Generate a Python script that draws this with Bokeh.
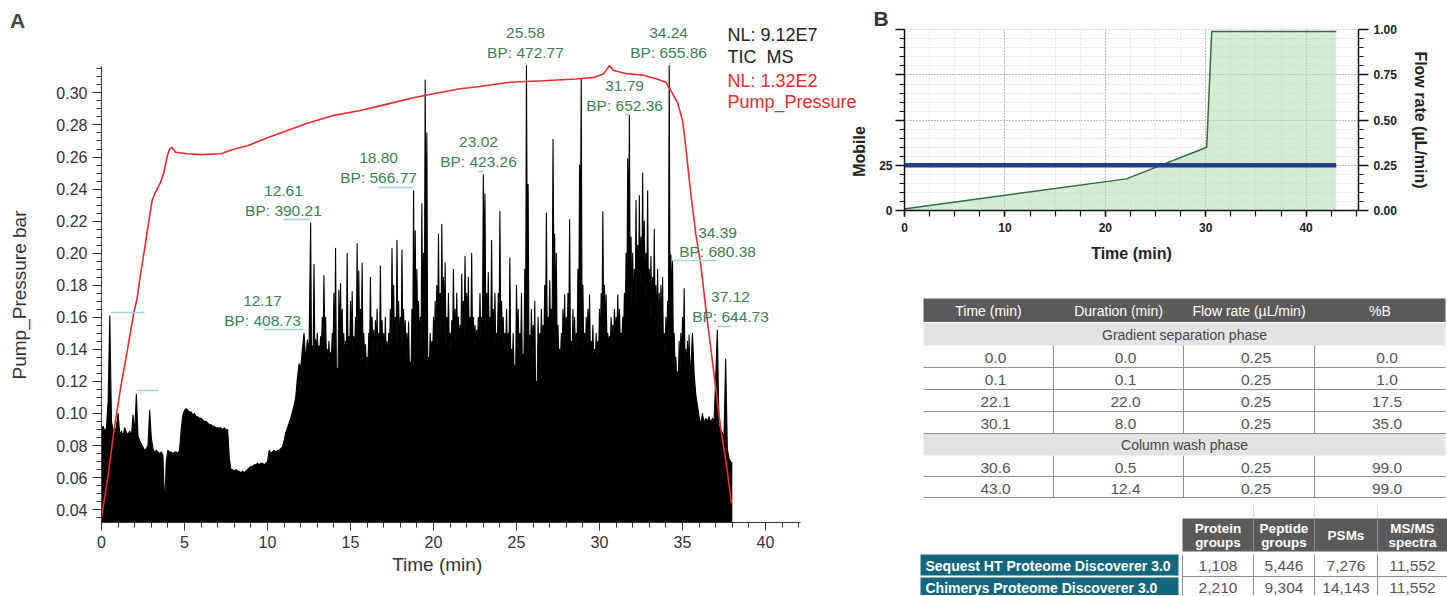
import math
from bokeh.plotting import figure
from bokeh.layouts import row, column
from bokeh.models import Range1d, LinearAxis, FixedTicker, PrintfTickFormatter
from bokeh.core.properties import value
from bokeh.embed import file_html
from bokeh.resources import INLINE

FONT = "Liberation Sans"
NARROW = "'Liberation Sans Narrow', 'Arial Narrow', 'Liberation Sans'"

# ---------------- Panel A data ----------------
# TIC trace (plotted in left-axis units): local maxima read every 0.1 min from 0.0 min
tic_step = 0.1
tic_values = [
    0.090, 0.092, 0.089, 0.091, 0.108, 0.161, 0.095, 0.090, 0.088, 0.092,
    0.100, 0.087, 0.089, 0.086, 0.091, 0.088, 0.087, 0.089, 0.086, 0.099,
    0.088, 0.112, 0.086, 0.083, 0.081, 0.079, 0.077, 0.078, 0.080, 0.102,
    0.085, 0.078, 0.076, 0.077, 0.076, 0.075, 0.076, 0.074, 0.041, 0.070,
    0.077, 0.076, 0.076, 0.075, 0.076, 0.076, 0.075, 0.077, 0.090, 0.099,
    0.102, 0.103, 0.102, 0.101, 0.101, 0.099, 0.100, 0.098, 0.098, 0.097,
    0.097, 0.096, 0.095, 0.095, 0.094, 0.093, 0.093, 0.092, 0.092, 0.091,
    0.091, 0.091, 0.091, 0.090, 0.091, 0.090, 0.090, 0.072, 0.065, 0.065,
    0.064, 0.065, 0.064, 0.064, 0.063, 0.064, 0.063, 0.064, 0.065, 0.066,
    0.067, 0.067, 0.068, 0.068, 0.069, 0.068, 0.069, 0.069, 0.068, 0.069,
    0.070, 0.077, 0.075, 0.076, 0.077, 0.076, 0.077, 0.077, 0.078, 0.079,
    0.083, 0.088, 0.091, 0.094, 0.097, 0.101, 0.105, 0.110, 0.122, 0.131,
    0.128, 0.140, 0.150, 0.133, 0.146, 0.138, 0.219, 0.142, 0.193, 0.146,
    0.150, 0.142, 0.148, 0.160, 0.186, 0.160, 0.140, 0.145, 0.138, 0.150,
    0.175, 0.203, 0.128, 0.177, 0.181, 0.165, 0.150, 0.145, 0.200, 0.148,
    0.170, 0.176, 0.148, 0.160, 0.206, 0.189, 0.165, 0.194, 0.150, 0.143,
    0.135, 0.150, 0.185, 0.160, 0.152, 0.158, 0.165, 0.150, 0.192, 0.158,
    0.150, 0.160, 0.145, 0.150, 0.165, 0.203, 0.180, 0.160, 0.208, 0.170,
    0.160, 0.202, 0.165, 0.158, 0.150, 0.157, 0.132, 0.165, 0.239, 0.214,
    0.190, 0.170, 0.160, 0.231, 0.200, 0.308, 0.275, 0.135, 0.150, 0.145,
    0.160, 0.170, 0.180, 0.212, 0.175, 0.218, 0.185, 0.194, 0.160, 0.175,
    0.150, 0.158, 0.190, 0.165, 0.175, 0.160, 0.155, 0.187, 0.170, 0.198,
    0.175, 0.185, 0.160, 0.200, 0.160, 0.155, 0.152, 0.160, 0.175, 0.160,
    0.249, 0.237, 0.175, 0.188, 0.160, 0.208, 0.165, 0.175, 0.150, 0.175,
    0.226, 0.170, 0.160, 0.150, 0.165, 0.150, 0.197, 0.140, 0.150, 0.130,
    0.180, 0.165, 0.150, 0.175, 0.137, 0.190, 0.317, 0.243, 0.149, 0.165,
    0.155, 0.170, 0.120, 0.160, 0.150, 0.165, 0.155, 0.180, 0.225, 0.160,
    0.183, 0.165, 0.271, 0.212, 0.200, 0.155, 0.140, 0.150, 0.165, 0.174,
    0.160, 0.175, 0.221, 0.145, 0.165, 0.160, 0.150, 0.190, 0.255, 0.309,
    0.180, 0.150, 0.160, 0.165, 0.174, 0.145, 0.155, 0.140, 0.150, 0.145,
    0.165, 0.175, 0.226, 0.180, 0.174, 0.150, 0.148, 0.160, 0.155, 0.165,
    0.160, 0.174, 0.165, 0.150, 0.160, 0.175, 0.200, 0.259, 0.286, 0.210,
    0.200, 0.190, 0.233, 0.205, 0.236, 0.210, 0.250, 0.220, 0.200, 0.239,
    0.190, 0.198, 0.185, 0.215, 0.180, 0.190, 0.175, 0.180, 0.185, 0.150,
    0.160, 0.170, 0.317, 0.199, 0.195, 0.150, 0.135, 0.126, 0.145, 0.150,
    0.160, 0.178, 0.140, 0.145, 0.149, 0.130, 0.150, 0.125, 0.112, 0.105,
    0.098, 0.093, 0.100, 0.094, 0.097, 0.095, 0.098, 0.094, 0.097, 0.095,
    0.122, 0.152, 0.092, 0.090, 0.088, 0.085, 0.134, 0.078, 0.072, 0.070,
    0.069,
]
# TIC minima between successive samples (slit bottoms), from 12.65 min every 0.1 min
valley_start = 12.65
tic_valleys = [
    0.136, 0.138, 0.140, 0.137,
    0.136, 0.139, 0.141, 0.143, 0.145, 0.134, 0.131, 0.133, 0.136, 0.140,
    0.127, 0.126, 0.126, 0.140, 0.142, 0.137, 0.132, 0.135, 0.138, 0.136,
    0.140, 0.137, 0.135, 0.141, 0.145, 0.143, 0.140, 0.138, 0.136, 0.131,
    0.129, 0.136, 0.140, 0.137, 0.135, 0.138, 0.136, 0.134, 0.140, 0.137,
    0.135, 0.133, 0.132, 0.138, 0.142, 0.146, 0.140, 0.139, 0.145, 0.138,
    0.140, 0.142, 0.137, 0.135, 0.133, 0.128, 0.127, 0.140, 0.150, 0.148,
    0.145, 0.140, 0.138, 0.150, 0.165, 0.190, 0.132, 0.130, 0.135, 0.136,
    0.140, 0.142, 0.145, 0.150, 0.148, 0.152, 0.150, 0.142, 0.143, 0.141,
    0.140, 0.143, 0.145, 0.144, 0.146, 0.142, 0.145, 0.147, 0.148, 0.150,
    0.150, 0.147, 0.148, 0.146, 0.144, 0.143, 0.142, 0.145, 0.148, 0.152,
    0.190, 0.150, 0.155, 0.148, 0.150, 0.148, 0.150, 0.142, 0.145, 0.150,
    0.148, 0.145, 0.140, 0.138, 0.137, 0.136, 0.134, 0.128, 0.127, 0.126,
    0.140, 0.138, 0.136, 0.130, 0.135, 0.160, 0.200, 0.137, 0.138, 0.136,
    0.135, 0.116, 0.118, 0.138, 0.140, 0.139, 0.142, 0.150, 0.148, 0.145,
    0.150, 0.160, 0.190, 0.150, 0.140, 0.135, 0.133, 0.136, 0.140, 0.142,
    0.145, 0.150, 0.138, 0.136, 0.138, 0.137, 0.140, 0.160, 0.200, 0.150,
    0.140, 0.138, 0.140, 0.142, 0.137, 0.136, 0.132, 0.134, 0.135, 0.138,
    0.142, 0.150, 0.155, 0.150, 0.145, 0.142, 0.141, 0.143, 0.145, 0.146,
    0.148, 0.146, 0.145, 0.146, 0.150, 0.155, 0.170, 0.200, 0.180, 0.165,
    0.160, 0.165, 0.170, 0.175, 0.180, 0.178, 0.175, 0.170, 0.175, 0.165,
    0.160, 0.158, 0.162, 0.155, 0.150, 0.148, 0.150, 0.145, 0.140, 0.138,
    0.140, 0.145, 0.160, 0.170, 0.140, 0.128, 0.122, 0.120, 0.125, 0.130,
    0.135, 0.130, 0.128, 0.125, 0.120,
]

pump_time = [0.0, 0.35, 0.75, 1.15, 1.55, 1.95, 2.15, 2.35, 2.65, 2.85, 3.05, 3.25,
             3.55, 3.75, 3.95, 4.1, 4.25, 4.45, 5.15, 6.0, 7.2, 8.0, 8.8, 10.0, 11.2,
             12.4, 14.0, 15.6, 17.2, 18.8, 20.0, 21.6, 22.8, 24.6, 26.6, 28.6, 29.7,
             30.25, 30.6, 30.85, 31.65, 32.65, 33.45, 34.0, 34.3, 34.7, 35.0, 35.2,
             35.5, 35.8, 36.1, 36.4, 36.7, 37.0, 37.3, 37.7, 37.95]
pump_value = [0.035, 0.058, 0.089, 0.116, 0.139, 0.163, 0.172, 0.187, 0.206, 0.220,
              0.233, 0.238, 0.244, 0.250, 0.260, 0.265, 0.266, 0.263, 0.262, 0.2615,
              0.262, 0.265, 0.267, 0.272, 0.2765, 0.281, 0.286, 0.289, 0.293, 0.297,
              0.2995, 0.3026, 0.304, 0.3066, 0.3076, 0.3087, 0.3097, 0.312, 0.317,
              0.314, 0.312, 0.311, 0.3087, 0.3066, 0.3014, 0.294, 0.283, 0.266, 0.237,
              0.212, 0.193, 0.166, 0.141, 0.116, 0.091, 0.064, 0.044]

peak_rt_labels = ["12.61", "18.80", "23.02", "25.58", "34.24", "31.79", "34.39", "37.12", "12.17"]
peak_bp_labels = ["BP: 390.21", "BP: 566.77", "BP: 423.26", "BP: 472.77", "BP: 655.86",
                  "BP: 652.36", "BP: 680.38", "BP: 644.73", "BP: 408.73"]
trace_info = ["NL: 9.12E7", "TIC\u00a0\u00a0MS", "NL: 1.32E2", "Pump_Pressure"]

# ---------------- Panel B / table data ----------------
grad_time = [0.0, 0.1, 22.1, 30.1, 30.6, 43.0]
grad_duration = [0.0, 0.1, 22.0, 8.0, 0.5, 12.4]
grad_flow = [0.25, 0.25, 0.25, 0.25, 0.25, 0.25]
grad_B = [0.0, 1.0, 17.5, 35.0, 99.0, 99.0]
grad_headers = ["Time (min)", "Duration (min)", "Flow rate (\u00b5L/min)", "%B"]
phase_names = ["Gradient separation phase", "Column wash phase"]

result_software = ["Sequest HT Proteome Discoverer 3.0", "Chimerys Proteome Discoverer 3.0"]
result_headers = [["Protein", "groups"], ["Peptide", "groups"], ["PSMs"], ["MS/MS", "spectra"]]
protein_groups = [1108, 2210]
peptide_groups = [5446, 9304]
psms = [7276, 14143]
msms_spectra = [11552, 11552]

# merge samples and slit minima into one trace ordered by time
tic_pts = [(round(i * tic_step, 2), v) for i, v in enumerate(tic_values)]
tic_pts += [(round(valley_start + i * tic_step, 2), v) for i, v in enumerate(tic_valleys)]
tic_pts.sort()
tic_t = [p[0] for p in tic_pts]
tic_v = [p[1] for p in tic_pts]

H = 595
# ======================= PANEL A =======================
PXM = 16.6       # px per minute
PXV = 1603.0     # px per bar
Y0 = 0.032


def tx(px):
    return (px - 101) / PXM


def vy(py):
    return Y0 + (522 - py) / PXV


WA = 870
pA = figure(width=WA, height=H, x_range=Range1d(tx(0), tx(WA)), y_range=Range1d(vy(H), vy(0)),
            output_backend="svg", toolbar_location=None, min_border=0,
            min_border_left=0, min_border_right=0, min_border_top=0, min_border_bottom=0)
pA.frame_align = False
pA.outline_line_color = None
pA.grid.visible = False

pA.varea(x=tic_t, y1=Y0, y2=tic_v, fill_color="black")
pA.line(tic_t, tic_v, line_color="black", line_width=1.1, line_join="round")
pA.line(pump_time, pump_value, line_color="#ec2a2e", line_width=1.6)

mk_x0 = [10.96, 16.69, 22.71, 25.48, 34.16, 31.51, 34.34, 37.11, 9.76, 0.54, 2.11]
mk_x1 = [12.53, 18.80, 23.01, 25.60, 34.28, 31.81, 37.05, 37.95, 12.17, 2.59, 3.43]
mk_y = [0.2210, 0.2410, 0.2509, 0.3183, 0.3183, 0.2865, 0.1954, 0.1543, 0.1524, 0.1630, 0.1143]
pA.segment(x0=mk_x0, y0=mk_y, x1=mk_x1, y1=mk_y, line_color="#9fd4dc", line_width=1.5)

ann_x = [10.96, 16.69, 22.71, 25.54, 34.16, 31.51, 37.11, 37.89, 9.70]
ann_y = [0.2385, 0.2591, 0.2691, 0.3371, 0.3371, 0.3040, 0.2129, 0.1724, 0.1699]
GREEN = "#3b7f54"
pA.text(x=ann_x, y=ann_y, text=peak_rt_labels, text_font=value(FONT), text_font_size="15.5px",
        text_color=GREEN, text_align="center", text_baseline="middle")
pA.text(x=ann_x, y=[v - 19 / PXV for v in ann_y], text=peak_bp_labels, text_font=value(FONT),
        text_font_size="15.5px", text_color=GREEN, text_align="center", text_baseline="middle")

info_y = [vy(34), vy(56), vy(80), vy(101)]
pA.text(x=[tx(727)] * 4, y=info_y, text=trace_info, text_font=value(FONT), text_font_size="18px",
        text_color=["#222222", "#222222", "#ec2a2e", "#ec2a2e"], text_align="left",
        text_baseline="middle")

# panel letter and axis titles
pA.text(x=[tx(17)], y=[vy(19.5)], text=["A"], text_font=value(FONT), text_font_style="bold",
        text_font_size="21px", text_color="#444444", text_align="center", text_baseline="middle")
pA.text(x=[tx(18.5)], y=[vy(294.5)], text=["Pump_Pressure bar"], angle=math.pi / 2,
        text_font=value(FONT), text_font_size="19px", text_color="#333333",
        text_align="center", text_baseline="middle")
pA.text(x=[tx(436.7)], y=[vy(564)], text=["Time (min)"], text_font=value(FONT),
        text_font_size="19px", text_color="#333333", text_align="center", text_baseline="middle")
# left axis title of panel B (sits over panel A's space)
pA.text(x=[tx(859)], y=[vy(151)], text=["Mobile"], angle=math.pi / 2,
        text_font=value(NARROW), text_font_style="bold", text_font_size="16px",
        text_color="#222222", text_align="center", text_baseline="middle")

pA.xaxis.fixed_location = Y0
pA.yaxis.fixed_location = 0
pA.xaxis.bounds = (0, 42.1)
pA.yaxis.bounds = (Y0, 0.3165)
pA.xaxis.ticker = FixedTicker(ticks=list(range(0, 41, 5)), minor_ticks=list(range(0, 43)))
pA.yaxis.ticker = FixedTicker(ticks=[round(0.04 + 0.02 * i, 3) for i in range(14)],
                              minor_ticks=[round(0.035 + 0.005 * i, 4) for i in range(57)])
pA.yaxis.formatter = PrintfTickFormatter(format="%.2f")
for ax in (pA.xaxis, pA.yaxis):
    ax.axis_line_color = "#333333"
    ax.major_tick_line_color = "#333333"
    ax.minor_tick_line_color = "#333333"
    ax.major_tick_in = 0
    ax.minor_tick_in = 0
    ax.major_label_text_font = FONT
    ax.major_label_text_font_size = "16px"
    ax.major_label_text_color = "#333333"
    ax.major_label_standoff = 5
pA.xaxis.major_tick_out = 8
pA.xaxis.minor_tick_out = 5
pA.yaxis.major_tick_out = 9
pA.yaxis.minor_tick_out = 5

# ======================= PANEL B =======================
WB = 577
HB = 282
pB = figure(width=WB, height=HB, x_range=Range1d(0, 454 / 10.04),
            y_range=Range1d(0, 100 * 181 / 180.7), output_backend="svg",
            toolbar_location=None, min_border_left=34, min_border_right=WB - 34 - 454,
            min_border_top=29, min_border_bottom=HB - 29 - 181)
pB.frame_align = False
pB.outline_line_color = None
pB.extra_y_ranges = {"flow": Range1d(0, 181 / 180.7)}

pB.varea(x=grad_time, y1=0, y2=grad_B, fill_color="#b3dab3", fill_alpha=0.55)
pB.line(grad_time, grad_B, line_color="#2f6e3e", line_width=1.5)
pB.line(grad_time, grad_flow, y_range_name="flow", line_color="#1f3f8a", line_width=4.5)

xt = FixedTicker(ticks=[0, 10, 20, 30, 40], minor_ticks=[2.5 * i for i in range(19)])
yt = FixedTicker(ticks=[0, 25, 50, 75, 100], minor_ticks=list(range(0, 101, 5)))
pB.xaxis.ticker = xt
pB.yaxis.ticker = yt
pB.xgrid.ticker = xt
pB.ygrid.ticker = yt
for g in (pB.xgrid, pB.ygrid):
    g.grid_line_color = "#8c8c8c"
    g.grid_line_dash = "1 2"
    g.minor_grid_line_color = "#d2d2d2"
    g.minor_grid_line_dash = "1 2"
pB.yaxis.major_label_overrides = {50: "", 75: "", 100: ""}

rax = LinearAxis(y_range_name="flow", axis_label="Flow rate (\u00b5L/min)")
rax.ticker = FixedTicker(ticks=[0, 0.25, 0.5, 0.75, 1.0],
                         minor_ticks=[round(0.05 * i, 2) for i in range(21)])
rax.formatter = PrintfTickFormatter(format="%.2f")
pB.add_layout(rax, "right")
pB.xaxis.axis_label = "Time (min)"

for ax in (pB.xaxis[0], pB.yaxis[0], rax):
    ax.axis_line_color = "#111111"
    ax.axis_line_width = 1.5
    ax.major_tick_line_color = "#111111"
    ax.minor_tick_line_color = "#111111"
    ax.major_tick_line_width = 1.5
    ax.minor_tick_line_width = 1.2
    ax.major_tick_in = 0
    ax.minor_tick_in = 0
    ax.major_label_text_font = NARROW
    ax.major_label_text_font_style = "bold"
    ax.major_label_text_font_size = "12px"
    ax.major_label_text_color = "#222222"
    ax.axis_label_text_font = NARROW
    ax.axis_label_text_font_style = "bold"
    ax.axis_label_text_font_size = "16px"
    ax.axis_label_text_color = "#222222"
pB.xaxis.major_tick_out = 6
pB.xaxis.minor_tick_out = 6
pB.xaxis.major_label_standoff = 6
pB.xaxis.axis_label_standoff = 10
pB.yaxis[0].major_tick_out = 9
pB.yaxis[0].minor_tick_out = 5
pB.yaxis[0].major_label_standoff = 3
rax.major_tick_out = 10
rax.minor_tick_out = 5
rax.major_label_standoff = 5
rax.axis_label_standoff = 12

pB.title.text = "B"
pB.title.align = "left"
pB.title.offset = -31
pB.title.standoff = 0
pB.title.vertical_align = "bottom"
pB.title.text_font = FONT
pB.title.text_font_style = "bold"
pB.title.text_font_size = "21px"
pB.title.text_color = "#333333"

# ======================= TABLES =======================
HT = H - HB
pT = figure(width=WB, height=HT, x_range=Range1d(870, 870 + WB), y_range=Range1d(H, HB),
            output_backend="svg", toolbar_location=None, min_border=0,
            min_border_left=0, min_border_right=0, min_border_top=0, min_border_bottom=0,
            x_axis_type=None, y_axis_type=None)
pT.frame_align = False
pT.outline_line_color = None
pT.grid.visible = False

DARK = "#5a5a5a"
LIGHT = "#e3e3e3"
LINE = "#8e8e8e"
TXT = "#555555"
TEAL = "#13667b"

# --- gradient table geometry (layout, page px) ---
c_edges = [923, 1053, 1183, 1314, 1445]
c_mid = [(c_edges[i] + c_edges[i + 1]) / 2 for i in range(4)]
head_top, head_bot = 298, 321.5
phase_band = [(322.5, 345), (433, 455)]
data_rows = [(345, 367), (367, 389), (389, 411), (411, 433), (455, 476), (476, 497)]

pT.quad(left=c_edges[0], right=c_edges[-1], top=head_top, bottom=head_bot,
        fill_color=DARK, line_color=None)
pT.text(x=c_mid, y=[310] * 4, text=grad_headers, text_font=value(FONT), text_font_size="14px",
        text_color="white", text_align="center", text_baseline="middle")
pT.quad(left=[c_edges[0]] * 2, right=[c_edges[-1]] * 2, top=[b[0] for b in phase_band],
        bottom=[b[1] for b in phase_band], fill_color=LIGHT, line_color=None)
pT.text(x=[(c_edges[0] + c_edges[-1]) / 2] * 2, y=[(b[0] + b[1]) / 2 + 0.5 for b in phase_band],
        text=phase_names, text_font=value(FONT), text_font_size="14px", text_color="#444444",
        text_align="center", text_baseline="middle")

cols = [grad_time, grad_duration, grad_flow, grad_B]
fmts = ["{:.1f}", "{:.1f}", "{:.2f}", "{:.1f}"]
cell_x, cell_y, cell_t = [], [], []
for r, (t0, t1) in enumerate(data_rows):
    for c in range(4):
        cell_x.append(c_mid[c] + 7)
        cell_y.append((t0 + t1) / 2 + 1.5)
        cell_t.append(fmts[c].format(cols[c][r]))
pT.text(x=cell_x, y=cell_y, text=cell_t, text_font=value(FONT), text_font_size="15.5px",
        text_color=TXT, text_align="center", text_baseline="middle")

hy = [t1 for (t0, t1) in data_rows]
pT.segment(x0=[c_edges[0]] * len(hy), y0=hy, x1=[c_edges[-1]] * len(hy), y1=hy,
           line_color=LINE, line_width=1)
vx, vy0, vy1 = [], [], []
for block in ((345, 433), (455, 497)):
    for e in c_edges[1:-1]:
        vx.append(e); vy0.append(block[0]); vy1.append(block[1])
pT.segment(x0=vx, y0=vy0, x1=vx, y1=vy1, line_color=LINE, line_width=1)

# --- results table geometry (layout, page px) ---
r_edges = [1182, 1253, 1314, 1377, 1447]
r_mid = [(r_edges[i] + r_edges[i + 1]) / 2 for i in range(4)]
rh_top, rh_bot = 518, 551
res_rows = [(554, 575), (577, 596)]
lab_left, lab_right = 920, 1178

pT.segment(x0=r_edges[1:-1], y0=[503] * 3, x1=r_edges[1:-1], y1=[rh_top] * 3,
           line_color="#dddddd", line_width=1)
pT.quad(left=r_edges[0], right=r_edges[-1], top=rh_top, bottom=rh_bot, fill_color=DARK,
        line_color=None)
pT.segment(x0=r_edges[1:-1], y0=[rh_top] * 3, x1=r_edges[1:-1], y1=[rh_bot] * 3,
           line_color="#8a8a8a", line_width=1)
hx, hyy, ht = [], [], []
for c, lines in enumerate(result_headers):
    if len(lines) == 1:
        hx.append(r_mid[c]); hyy.append((rh_top + rh_bot) / 2); ht.append(lines[0])
    else:
        hx += [r_mid[c], r_mid[c]]
        hyy += [(rh_top + rh_bot) / 2 - 6.5, (rh_top + rh_bot) / 2 + 7]
        ht += lines
pT.text(x=hx, y=hyy, text=ht, text_font=value(FONT), text_font_style="bold",
        text_font_size="13.5px", text_color="white", text_align="center", text_baseline="middle")

pT.quad(left=[lab_left] * 2, right=[lab_right] * 2, top=[r[0] for r in res_rows],
        bottom=[r[1] for r in res_rows], fill_color=TEAL, line_color=None)
pT.text(x=[lab_left + 5] * 2, y=[(r[0] + r[1]) / 2 + 0.5 for r in res_rows], text=result_software,
        text_font=value(FONT), text_font_style="bold", text_font_size="14px", text_color="white",
        text_align="left", text_baseline="middle")

res_cols = [protein_groups, peptide_groups, psms, msms_spectra]
rx, ry, rt = [], [], []
for r, (t0, t1) in enumerate(res_rows):
    for c in range(4):
        rx.append(r_mid[c]); ry.append((t0 + t1) / 2 + 1); rt.append("{:,}".format(res_cols[c][r]))
pT.text(x=rx, y=ry, text=rt, text_font=value(FONT), text_font_size="15.5px", text_color=TXT,
        text_align="center", text_baseline="middle")
pT.segment(x0=r_edges[:-1], y0=[res_rows[0][0]] * 4, x1=r_edges[:-1], y1=[res_rows[1][1]] * 4,
           line_color=LINE, line_width=1)
pT.segment(x0=[r_edges[0]], y0=[576], x1=[r_edges[-1]], y1=[576], line_color=LINE,
           line_width=1)

layout = row(pA, column(pB, pT))
open("out.html", "w").write(file_html(layout, INLINE))
